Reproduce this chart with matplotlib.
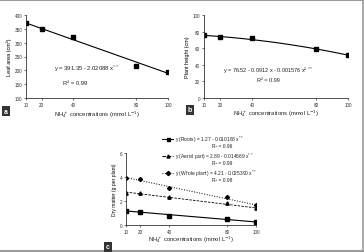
import matplotlib
matplotlib.use("Agg")
import matplotlib.pyplot as plt
import numpy as np
from matplotlib.lines import Line2D

plt.rcParams['font.family'] = ['Liberation Sans', 'DejaVu Sans']

conc = [10, 20, 40, 80, 100]
xticks = [10, 20, 40, 80, 100]

leaf_area = [370, 350, 320, 217, 195]
leaf_coef = [391.35, -2.02088]

plant_height = [76, 74, 72, 59, 52]
height_coef = [76.52, -0.0912, -0.001576]

roots = [1.2, 1.05, 0.75, 0.5, 0.25]
aerial = [2.7, 2.65, 2.3, 1.8, 1.45]
whole = [3.9, 3.85, 3.05, 2.3, 1.7]
roots_coef = [1.27, -0.010168]
aerial_coef = [2.89, -0.014669]
whole_coef = [4.21, -0.025390]

W, H = 364, 253
fig = plt.figure(figsize=(W/100, H/100), dpi=100)

def ax_px(l, r, t, b):
    return fig.add_axes([l/W, (H-b)/H, (r-l)/W, (b-t)/H])

def style(ax):
    for s in ['top', 'right']:
        ax.spines[s].set_visible(False)
    for s in ['left', 'bottom']:
        ax.spines[s].set_linewidth(0.6)
        ax.spines[s].set_color('#333333')
    ax.tick_params(labelsize=3.3, length=1.5, width=0.5, pad=1.2, colors='#333333')
    ax.set_xticks(xticks)
    ax.set_xlim(10, 100)

xs = np.linspace(10, 100, 100)
ms = 2.4

# Panel a
ax = ax_px(26, 168, 16, 99)
style(ax)
ax.plot(conc, leaf_area, 's', color='black', ms=ms)
ax.plot(xs, leaf_coef[0] + leaf_coef[1]*xs, '-', color='black', lw=0.8)
ax.set_ylim(100, 400)
ax.set_yticks(range(100, 401, 50))
ax.set_ylabel('Leaf area (cm²)', fontsize=4, labelpad=2)
ax.text(0.2, 0.335, 'y = 391.35 - 2.02088 x$^{**}$', transform=ax.transAxes, fontsize=4.2, color='#222222')
ax.text(0.26, 0.17, 'R² = 0.99', transform=ax.transAxes, fontsize=4.2, color='#222222')

# Panel b
ax = ax_px(204, 348, 16, 99)
style(ax)
ax.plot(conc, plant_height, 's', color='black', ms=ms)
ax.plot(xs, height_coef[0] + height_coef[1]*xs + height_coef[2]*xs**2, '-', color='black', lw=0.8)
ax.set_ylim(0, 100)
ax.set_yticks(range(0, 101, 20))
ax.set_ylabel('Plant height (cm)', fontsize=4, labelpad=2)
ax.text(0.45, 0.31, 'y = 76.52 - 0.0912 x - 0.001576 x² $^{**}$', transform=ax.transAxes, fontsize=4.0, ha='center', color='#222222')
ax.text(0.45, 0.2, 'R² = 0.99', transform=ax.transAxes, fontsize=4.0, ha='center', color='#222222')

# Panel c
ax = ax_px(126, 256, 154, 226)
style(ax)
ax.set_ylim(0, 6)
ax.set_yticks([0, 2, 4, 6])
ax.plot(conc, roots, 's', color='black', ms=ms)
ax.plot(xs, roots_coef[0] + roots_coef[1]*xs, '-', color='black', lw=0.8)
ax.plot(conc, aerial, '^', color='black', ms=ms)
ax.plot(xs, aerial_coef[0] + aerial_coef[1]*xs, '--', color='black', lw=0.6, dashes=(3, 1.5))
ax.plot(conc, whole, 'D', color='black', ms=ms*0.85)
ax.plot(xs, whole_coef[0] + whole_coef[1]*xs, ':', color='black', lw=0.7)
ax.set_ylabel('Dry matter (g per plant)', fontsize=3.6, labelpad=2)

# legend-like entries
leg = [
    ('s', '-', 'y (Roots) = 1.27 - 0.010168 x$^{**}$', 'R² = 0.96', 140),
    ('^', '--', 'y (Aerial part) = 2.89 - 0.014669 x$^{**}$', 'R² = 0.99', 157),
    ('D', ':', 'y (Whole plant) = 4.21 - 0.025390 x$^{**}$', 'R² = 0.98', 174),
]
for mk, lsty, t1, t2, ypx in leg:
    yf = (H - ypx)/H
    fig.add_artist(Line2D([162/W, 173/W], [yf, yf], color='black', lw=0.7, ls=lsty))
    fig.add_artist(Line2D([167.5/W], [yf], marker=mk, color='black', ms=ms*0.9))
    fig.text(175/W, yf, t1, fontsize=3.5, va='center', color='#222222')
    fig.text(222/W, (H - ypx - 7)/H, t2, fontsize=3.5, va='center', ha='center', color='#222222')

# x labels
fig.text(97/W, (H-115)/H, 'NH$_4^+$ concentrations (mmol L$^{-1}$)', fontsize=4.2, ha='center', va='center', color='#222222')
fig.text(276/W, (H-114)/H, 'NH$_4^+$ concentrations (mmol L$^{-1}$)', fontsize=4.2, ha='center', va='center', color='#222222')
fig.text(191/W, (H-240)/H, 'NH$_4^+$ concentrations (mmol L$^{-1}$)', fontsize=4.2, ha='center', va='center', color='#222222')

# panel letters
def letter(x, y, s):
    fig.text(x/W, (H-y)/H, s, fontsize=5, color='white', ha='center', va='center', fontweight='bold',
             bbox=dict(boxstyle='square,pad=0.25', fc='#333333', ec='none'))
letter(6, 112, 'a')
letter(190, 111, 'b')
letter(108, 248, 'c')

# border
bc = '#9a9a9a'
fig.add_artist(Line2D([0, 1], [1 - 0.5/H, 1 - 0.5/H], color=bc, lw=1.5))
fig.add_artist(Line2D([362.5/W, 362.5/W], [0, 1], color=bc, lw=1.2))
fig.add_artist(Line2D([0, 1], [1.0/H, 1.0/H], color=bc, lw=1.5))

fig.savefig('out.png', dpi=100)
